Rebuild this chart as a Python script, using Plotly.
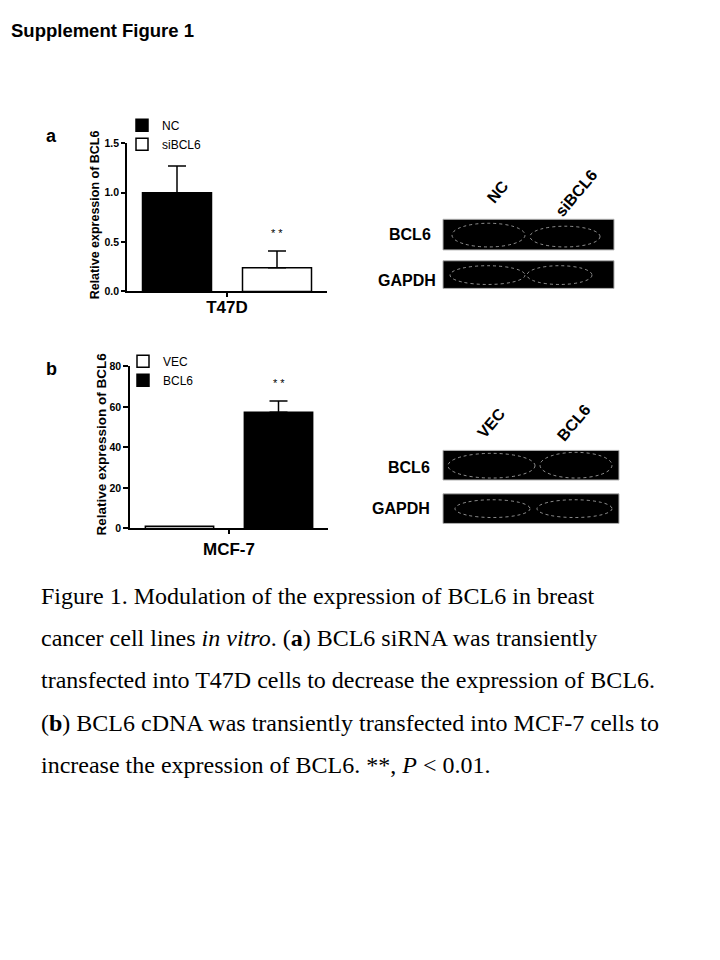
import plotly.graph_objects as go

# panel a: T47D, siRNA knockdown
a_groups = ["NC", "siBCL6"]
a_cell = "T47D"
a_values = [1.0, 0.24]
a_errors = [0.27, 0.17]
a_colors = ["black", "white"]

# panel b: MCF-7, cDNA overexpression
b_groups = ["VEC", "BCL6"]
b_cell = "MCF-7"
b_values = [1.0, 57.4]
b_errors = [0.0, 5.5]
b_colors = ["white", "black"]

caption_lines = [
    "Figure 1. Modulation of the expression of BCL6 in breast",
    "cancer cell lines <i>in vitro</i>. (<b>a</b>) BCL6 siRNA was transiently",
    "transfected into T47D cells to decrease the expression of BCL6.",
    "(<b>b</b>) BCL6 cDNA was transiently transfected into MCF-7 cells to",
    "increase the expression of BCL6. **, <i>P</i> &lt; 0.01.",
]

W, H = 720, 960


def px(x):
    return x / W


def py(y):
    return 1 - y / H


fig = go.Figure()

for name, val, err, col in zip(a_groups, a_values, a_errors, a_colors):
    fig.add_trace(go.Bar(
        x=[a_cell], y=[val], name=name, legend="legend",
        marker=dict(color=col, line=dict(color="black", width=1.5)),
        error_y=dict(type="data", symmetric=False, array=[err], arrayminus=[0],
                     color="black", thickness=1.5, width=9),
        xaxis="x", yaxis="y"))

for name, val, err, col in zip(b_groups, b_values, b_errors, b_colors):
    fig.add_trace(go.Bar(
        x=[b_cell], y=[val], name=name, legend="legend2",
        marker=dict(color=col, line=dict(color="black", width=1.5)),
        error_y=dict(type="data", symmetric=False, array=[err], arrayminus=[0],
                     color="black", thickness=1.5, width=9, visible=err > 0),
        xaxis="x2", yaxis="y2"))

axis_common = dict(showline=True, linecolor="black", linewidth=1.5, ticks="outside",
                   tickwidth=1.5, tickcolor="black", showgrid=False,
                   zeroline=False, fixedrange=True)
xfont = dict(family="Arial", size=17, color="black", weight="bold")
yfont = dict(family="Arial", size=10.5, color="black", weight="bold")

fig.update_layout(
    width=W, height=H, margin=dict(l=0, r=0, t=0, b=0),
    paper_bgcolor="white", plot_bgcolor="white",
    barmode="group", bargap=0.0, bargroupgap=0.31,
    xaxis=dict(domain=[px(127), px(327)], anchor="y", range=[-0.5, 0.5], ticklen=4,
               tickfont=xfont, ticklabelstandoff=-5, **axis_common),
    yaxis=dict(domain=[py(289), py(139)], anchor="x", range=[0, 1.5], ticklen=4,
               tickvals=[0, 0.5, 1.0, 1.5], tickformat=".1f", tickfont=yfont,
               ticklabelstandoff=0, **axis_common),
    xaxis2=dict(domain=[px(130), px(328)], anchor="y2", range=[-0.5, 0.5], ticklen=4,
                tickfont=xfont, **axis_common),
    yaxis2=dict(domain=[py(529), py(365)], anchor="x2", range=[0, 80], ticklen=5,
                tickvals=[0, 20, 40, 60, 80], tickfont=yfont, ticklabelstandoff=0,
                **axis_common),
    legend=dict(x=px(122), y=py(106), xanchor="left", yanchor="top",
                font=dict(family="Arial", size=12, color="black"),
                bgcolor="rgba(0,0,0,0)", traceorder="normal"),
    legend2=dict(x=px(123), y=py(345), xanchor="left", yanchor="top",
                 font=dict(family="Arial", size=12, color="black"),
                 bgcolor="rgba(0,0,0,0)", traceorder="normal"),
)

ann = []
# header and panel letters
ann.append(dict(text="<b>Supplement Figure 1</b>", x=px(9), y=py(25), xanchor="left",
                yanchor="middle", font=dict(family="Arial", size=18.5, color="black")))
ann.append(dict(text="<b>a</b>", x=px(52), y=py(132), xanchor="center", yanchor="middle",
                font=dict(family="Arial", size=18, color="black")))
ann.append(dict(text="<b>b</b>", x=px(52), y=py(368), xanchor="center", yanchor="middle",
                font=dict(family="Arial", size=18, color="black")))
# y axis titles
ann.append(dict(text="<b>Relative expression of BCL6</b>", x=px(95), y=py(212), textangle=-90,
                xanchor="center", yanchor="middle",
                font=dict(family="Arial", size=12.5, color="black")))
ann.append(dict(text="<b>Relative expression of BCL6</b>", x=px(101), y=py(444), textangle=-90,
                xanchor="center", yanchor="middle",
                font=dict(family="Arial", size=13.5, color="black")))
# significance stars above second bar of each panel
ann.append(dict(text="* *", x=0.25, y=a_values[1] + a_errors[1] + 0.18, xref="x", yref="y",
                showarrow=False, font=dict(family="Arial", size=11, color="black")))
ann.append(dict(text="* *", x=0.25, y=b_values[1] + b_errors[1] + 9, xref="x2", yref="y2",
                showarrow=False, font=dict(family="Arial", size=11, color="black")))

# western blot labels
blot_font = dict(family="Arial", size=16, color="black")
for txt, x, y in [("BCL6", 433, 231), ("GAPDH", 438, 278), ("BCL6", 432, 467), ("GAPDH", 432, 509)]:
    ann.append(dict(text="<b>%s</b>" % txt, x=px(x), y=py(y), xanchor="right", yanchor="middle",
                    font=blot_font))
for txt, x, y in [("NC", 498, 188), ("siBCL6", 576, 190), ("VEC", 491, 423), ("BCL6", 574, 422)]:
    ann.append(dict(text="<b>%s</b>" % txt, x=px(x), y=py(y), xanchor="center", yanchor="middle",
                    textangle=-50, font=blot_font))

# caption
for i, line in enumerate(caption_lines):
    ann.append(dict(text=line, x=px(39), y=py(597 + 43 * i), xanchor="left", yanchor="middle",
                    font=dict(family="Liberation Serif", size=24, color="black")))

for a in ann:
    a.setdefault("xref", "paper")
    a.setdefault("yref", "paper")
    a.setdefault("showarrow", False)
fig.update_layout(annotations=ann)

# blot images approximated with dark boxes and faint band outlines
shapes = []
boxes = [(443, 216, 614, 247), (443, 258, 614, 286), (443, 450, 619, 480), (443, 494, 619, 524)]
for x0, y0, x1, y1 in boxes:
    shapes.append(dict(type="rect", xref="paper", yref="paper", x0=px(x0), x1=px(x1),
                       y0=py(y1), y1=py(y0), fillcolor="black",
                       line=dict(color="#b0b0b0", width=1), layer="above"))
bands = [(452, 220, 525, 244), (530, 223, 600, 244), (450, 263, 525, 282), (527, 263, 592, 282),
         (448, 453, 535, 478), (540, 452, 612, 478), (455, 500, 530, 518), (537, 500, 612, 518)]
for x0, y0, x1, y1 in bands:
    shapes.append(dict(type="circle", xref="paper", yref="paper", x0=px(x0), x1=px(x1),
                       y0=py(y1), y1=py(y0), line=dict(color="rgba(255,255,255,0.55)",
                       width=1, dash="dot"), layer="above"))
fig.update_layout(shapes=shapes)

# page body has a default margin; drop it so the figure sits at the window origin
fig.write_html("out.html", config={"displayModeBar": False},
               post_script="document.body.style.margin='0';")
